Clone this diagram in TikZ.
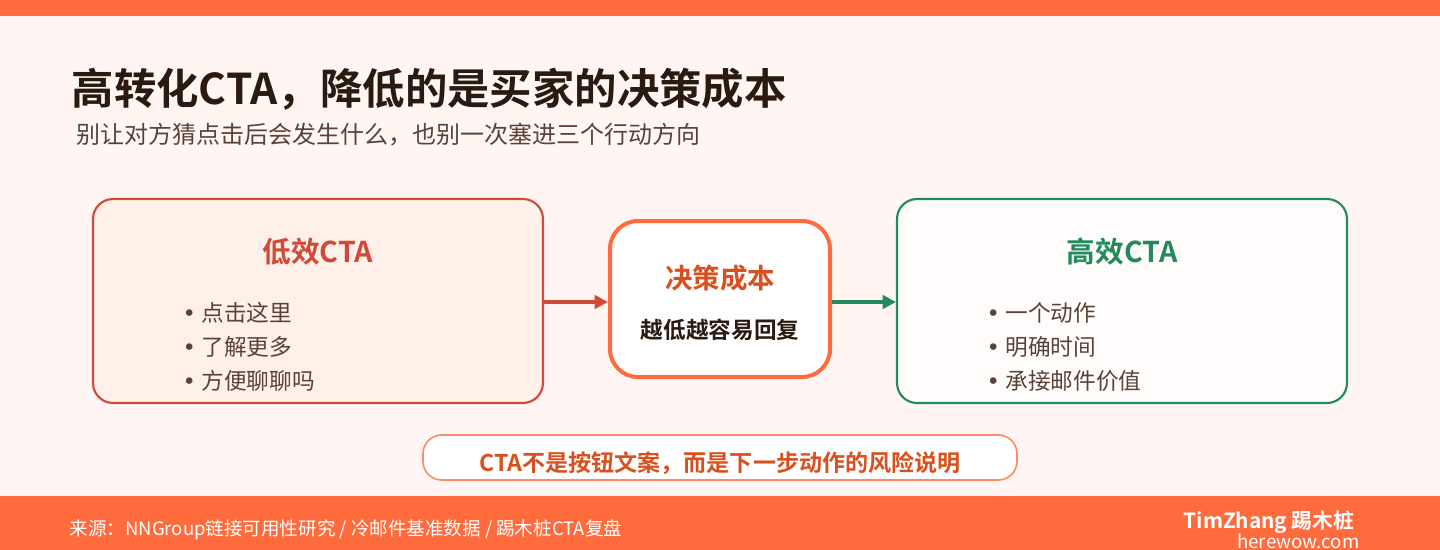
\documentclass[tikz,border=0pt]{standalone}
\usepackage{fontspec}
\setmainfont{Noto Sans CJK SC}
\newfontfamily\cjkb{Noto Sans CJK SC Bold}
\newfontfamily\latn{DejaVu Sans}
\definecolor{org}{HTML}{FF6B3D}
\definecolor{bgc}{HTML}{FFF6F3}
\definecolor{redc}{HTML}{D04A3A}
\definecolor{grn}{HTML}{238A5C}
\definecolor{darkc}{HTML}{2A1A10}
\definecolor{txt}{HTML}{5A4236}
\definecolor{midc}{HTML}{D9501E}
\definecolor{lfill}{HTML}{FFF0EA}
\newcommand{\bu}{{\latn •}\hspace{4pt}}
\begin{document}
\begin{tikzpicture}[x=0.75pt,y=-0.75pt,
  box/.style={draw,line width=1.6pt,rounded corners=15pt,inner sep=0pt},
  bul/.style={anchor=west,text=txt,font=\fontsize{17}{19}\selectfont},
  arr/.style={line width=2.6pt,-{Triangle[length=10pt,width=10pt]}}]
\usetikzlibrary{arrows.meta}
\useasboundingbox (0,0) rectangle (1440,550);
\fill[bgc] (0,0) rectangle (1440,550);
\fill[org] (0,0) rectangle (1440,16);
\fill[org] (0,496) rectangle (1440,550);
\node[anchor=west,text=darkc,font=\cjkb\fontsize{31.8}{34}\selectfont] (title) at (67,89) {高转化CTA，降低的是买家的决策成本};
\node[anchor=west,text=txt,font=\fontsize{18}{20}\selectfont] (sub) at (72,135) {别让对方猜点击后会发生什么，也别一次塞进三个行动方向};
\draw[box,redc,fill=lfill] (93,199) rectangle (543,403);
\coordinate (L) at (543,302);
\node[text=redc,font=\cjkb\fontsize{21.5}{24}\selectfont] (lt) at (318,252) {低效CTA};
\node[bul] (l1) at (178,313) {\bu 点击这里};
\node[bul] (l2) at (178,347) {\bu 了解更多};
\node[bul] (l3) at (178,381) {\bu 方便聊聊吗};
\draw[draw=org,line width=3pt,rounded corners=21pt,fill=white] (610,221) rectangle (830,377);
\coordinate (ML) at (608,302);
\coordinate (MR) at (832,302);
\node[text=midc,font=\cjkb\fontsize{20.6}{22}\selectfont] (mt) at (720,278) {决策成本};
\node[text=darkc,font=\cjkb\fontsize{17}{19}\selectfont] (ms) at (720,330) {越低越容易回复};
\draw[box,grn,fill=white!70!bgc] (897,199) rectangle (1347,403);
\coordinate (R) at (896,302);
\node[text=grn,font=\cjkb\fontsize{21.5}{24}\selectfont] (rt) at (1122,252) {高效CTA};
\node[bul] (r1) at (982,313) {\bu 一个动作};
\node[bul] (r2) at (982,347) {\bu 明确时间};
\node[bul] (r3) at (982,381) {\bu 承接邮件价值};
\draw[arr,redc] (L) -- (ML);
\draw[arr,grn] (MR) -- (R);
\draw[draw=org!80!white,line width=1.2pt,rounded corners=14pt,fill=white] (423,435) rectangle (1017,480);
\node[text=midc,font=\cjkb\fontsize{17.3}{19}\selectfont] (pill) at (720,463) {CTA不是按钮文案，而是下一步动作的风险说明};
\node[anchor=west,text=white,font=\fontsize{13.9}{15}\selectfont] (src) at (65,530) {来源：NNGroup链接可用性研究 / 冷邮件基准数据 / 踢木桩CTA复盘};
\node[anchor=east,text=white,font=\cjkb\fontsize{15.6}{17}\selectfont] (brand) at (1359,522) {TimZhang 踢木桩};
\node[anchor=east,text=white,font=\fontsize{14}{15}\selectfont] (web) at (1364,541) {herewow.com};
\end{tikzpicture}
\end{document}
